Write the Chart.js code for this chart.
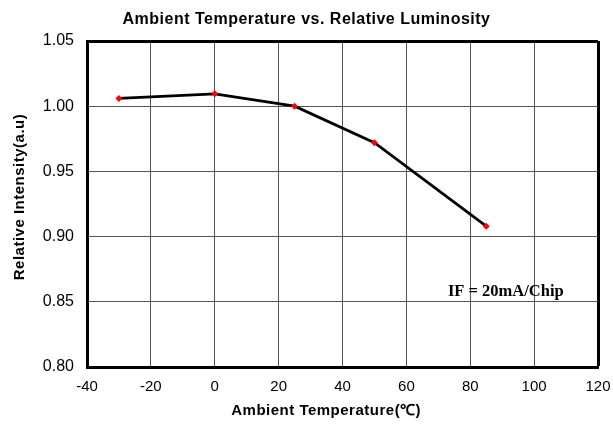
<!DOCTYPE html>
<html>
<head>
<meta charset="utf-8">
<script src="https://cdn.jsdelivr.net/npm/chart.js@4/dist/chart.umd.min.js"></script>
<style>
  html, body { margin: 0; padding: 0; background: #fff; }
  #wrap { width: 613px; height: 426px; }
</style>
</head>
<body>
<div id="wrap"><canvas id="myChart"></canvas></div>
<script>
// values
const temperatures = [-30, 0, 25, 50, 85];
const luminosity = [1.006, 1.0095, 1.000, 0.972, 0.908];
const xTicks = [-40, -20, 0, 20, 40, 60, 80, 100, 120];
const yTicks = [0.80, 0.85, 0.90, 0.95, 1.00, 1.05];
const noteText = 'IF = 20mA/Chip';
const notePos = { x: 73, y: 0.8576 };

const points = temperatures.map((t, i) => ({ x: t, y: luminosity[i] }));

// letter spaced titles, plain tick labels (ticks drawn after datasets, z = 1)
const spacing = {
  id: 'spacing',
  beforeDraw(chart) { chart.ctx.letterSpacing = '0.5px'; },
  afterDatasetsDraw(chart) { chart.ctx.letterSpacing = '0px'; }
};

// centre the title on the whole canvas
const titleCentre = {
  id: 'titleCentre',
  afterLayout(chart) { chart.titleBlock.left = 0; chart.titleBlock.right = chart.width; }
};

const note = {
  id: 'note',
  afterDraw(chart) {
    const c = chart.ctx;
    c.save();
    c.letterSpacing = '0px';
    c.font = 'bold 16.5px "Liberation Serif"';
    c.fillStyle = '#000';
    c.textAlign = 'left';
    c.textBaseline = 'middle';
    c.fillText(noteText, chart.scales.x.getPixelForValue(notePos.x), chart.scales.y.getPixelForValue(notePos.y));
    c.restore();
  }
};

// outer frame lines (top and right) are black and thick like the axes
const edgeColor = (last) => (c) => c.tick && c.tick.value === last ? '#000' : '#555';
const edgeWidth = (last) => (c) => c.tick && c.tick.value === last ? 3 : 1;

const ctx = document.getElementById('myChart');
new Chart(ctx, {
  type: 'line',
  data: {
    datasets: [{
      data: points,
      borderColor: '#000',
      borderWidth: 2.8,
      tension: 0,
      fill: false,
      pointStyle: 'rectRot',
      pointRadius: 3.5,
      pointBackgroundColor: '#ff0000',
      pointBorderWidth: 0
    }]
  },
  options: {
    responsive: true,
    maintainAspectRatio: false,
    animation: false,
    layout: { padding: { left: 0, right: 15, top: 0, bottom: 0 } },
    plugins: {
      legend: { display: false },
      tooltip: { enabled: false },
      title: {
        display: true,
        text: 'Ambient Temperature vs. Relative Luminosity',
        color: '#000',
        font: { family: '"Liberation Sans"', size: 16, weight: 'bold' },
        padding: { top: 10, bottom: 11.8 }
      }
    },
    scales: {
      x: {
        type: 'linear',
        min: -40,
        max: 120,
        afterBuildTicks: (s) => { s.ticks = xTicks.map(v => ({ value: v })); },
        afterFit: (s) => { s.height = 59; s.paddingLeft = 0; s.paddingRight = 0; },
        grid: { color: edgeColor(120), lineWidth: edgeWidth(120), drawTicks: false },
        border: { color: '#000', width: 3 },
        ticks: { z: 1, color: '#000', padding: 11, font: { family: '"Liberation Sans"', size: 15 } },
        title: {
          display: true,
          // trailing spaces pull the centred title left, as in the original
          text: 'Ambient Temperature(℃)       ',
          color: '#000',
          font: { family: '"Liberation Sans"', size: 15, weight: 'bold' },
          padding: { bottom: 6 }
        }
      },
      y: {
        min: 0.80,
        max: 1.05,
        afterBuildTicks: (s) => { s.ticks = yTicks.map(v => ({ value: v })); },
        afterFit: (s) => { s.width = 87; },
        grid: { color: edgeColor(1.05), lineWidth: edgeWidth(1.05), drawTicks: false },
        border: { color: '#000', width: 3 },
        ticks: {
          z: 1,
          color: '#000',
          padding: 13,
          font: { family: '"Liberation Sans"', size: 16 },
          callback: (v) => v.toFixed(2)
        },
        title: {
          display: true,
          text: '   Relative Intensity(a.u)',
          color: '#000',
          font: { family: '"Liberation Sans"', size: 15, weight: 'bold' },
          padding: { top: 10.5 }
        }
      }
    }
  },
  plugins: [spacing, titleCentre, note]
});
</script>
</body>
</html>
